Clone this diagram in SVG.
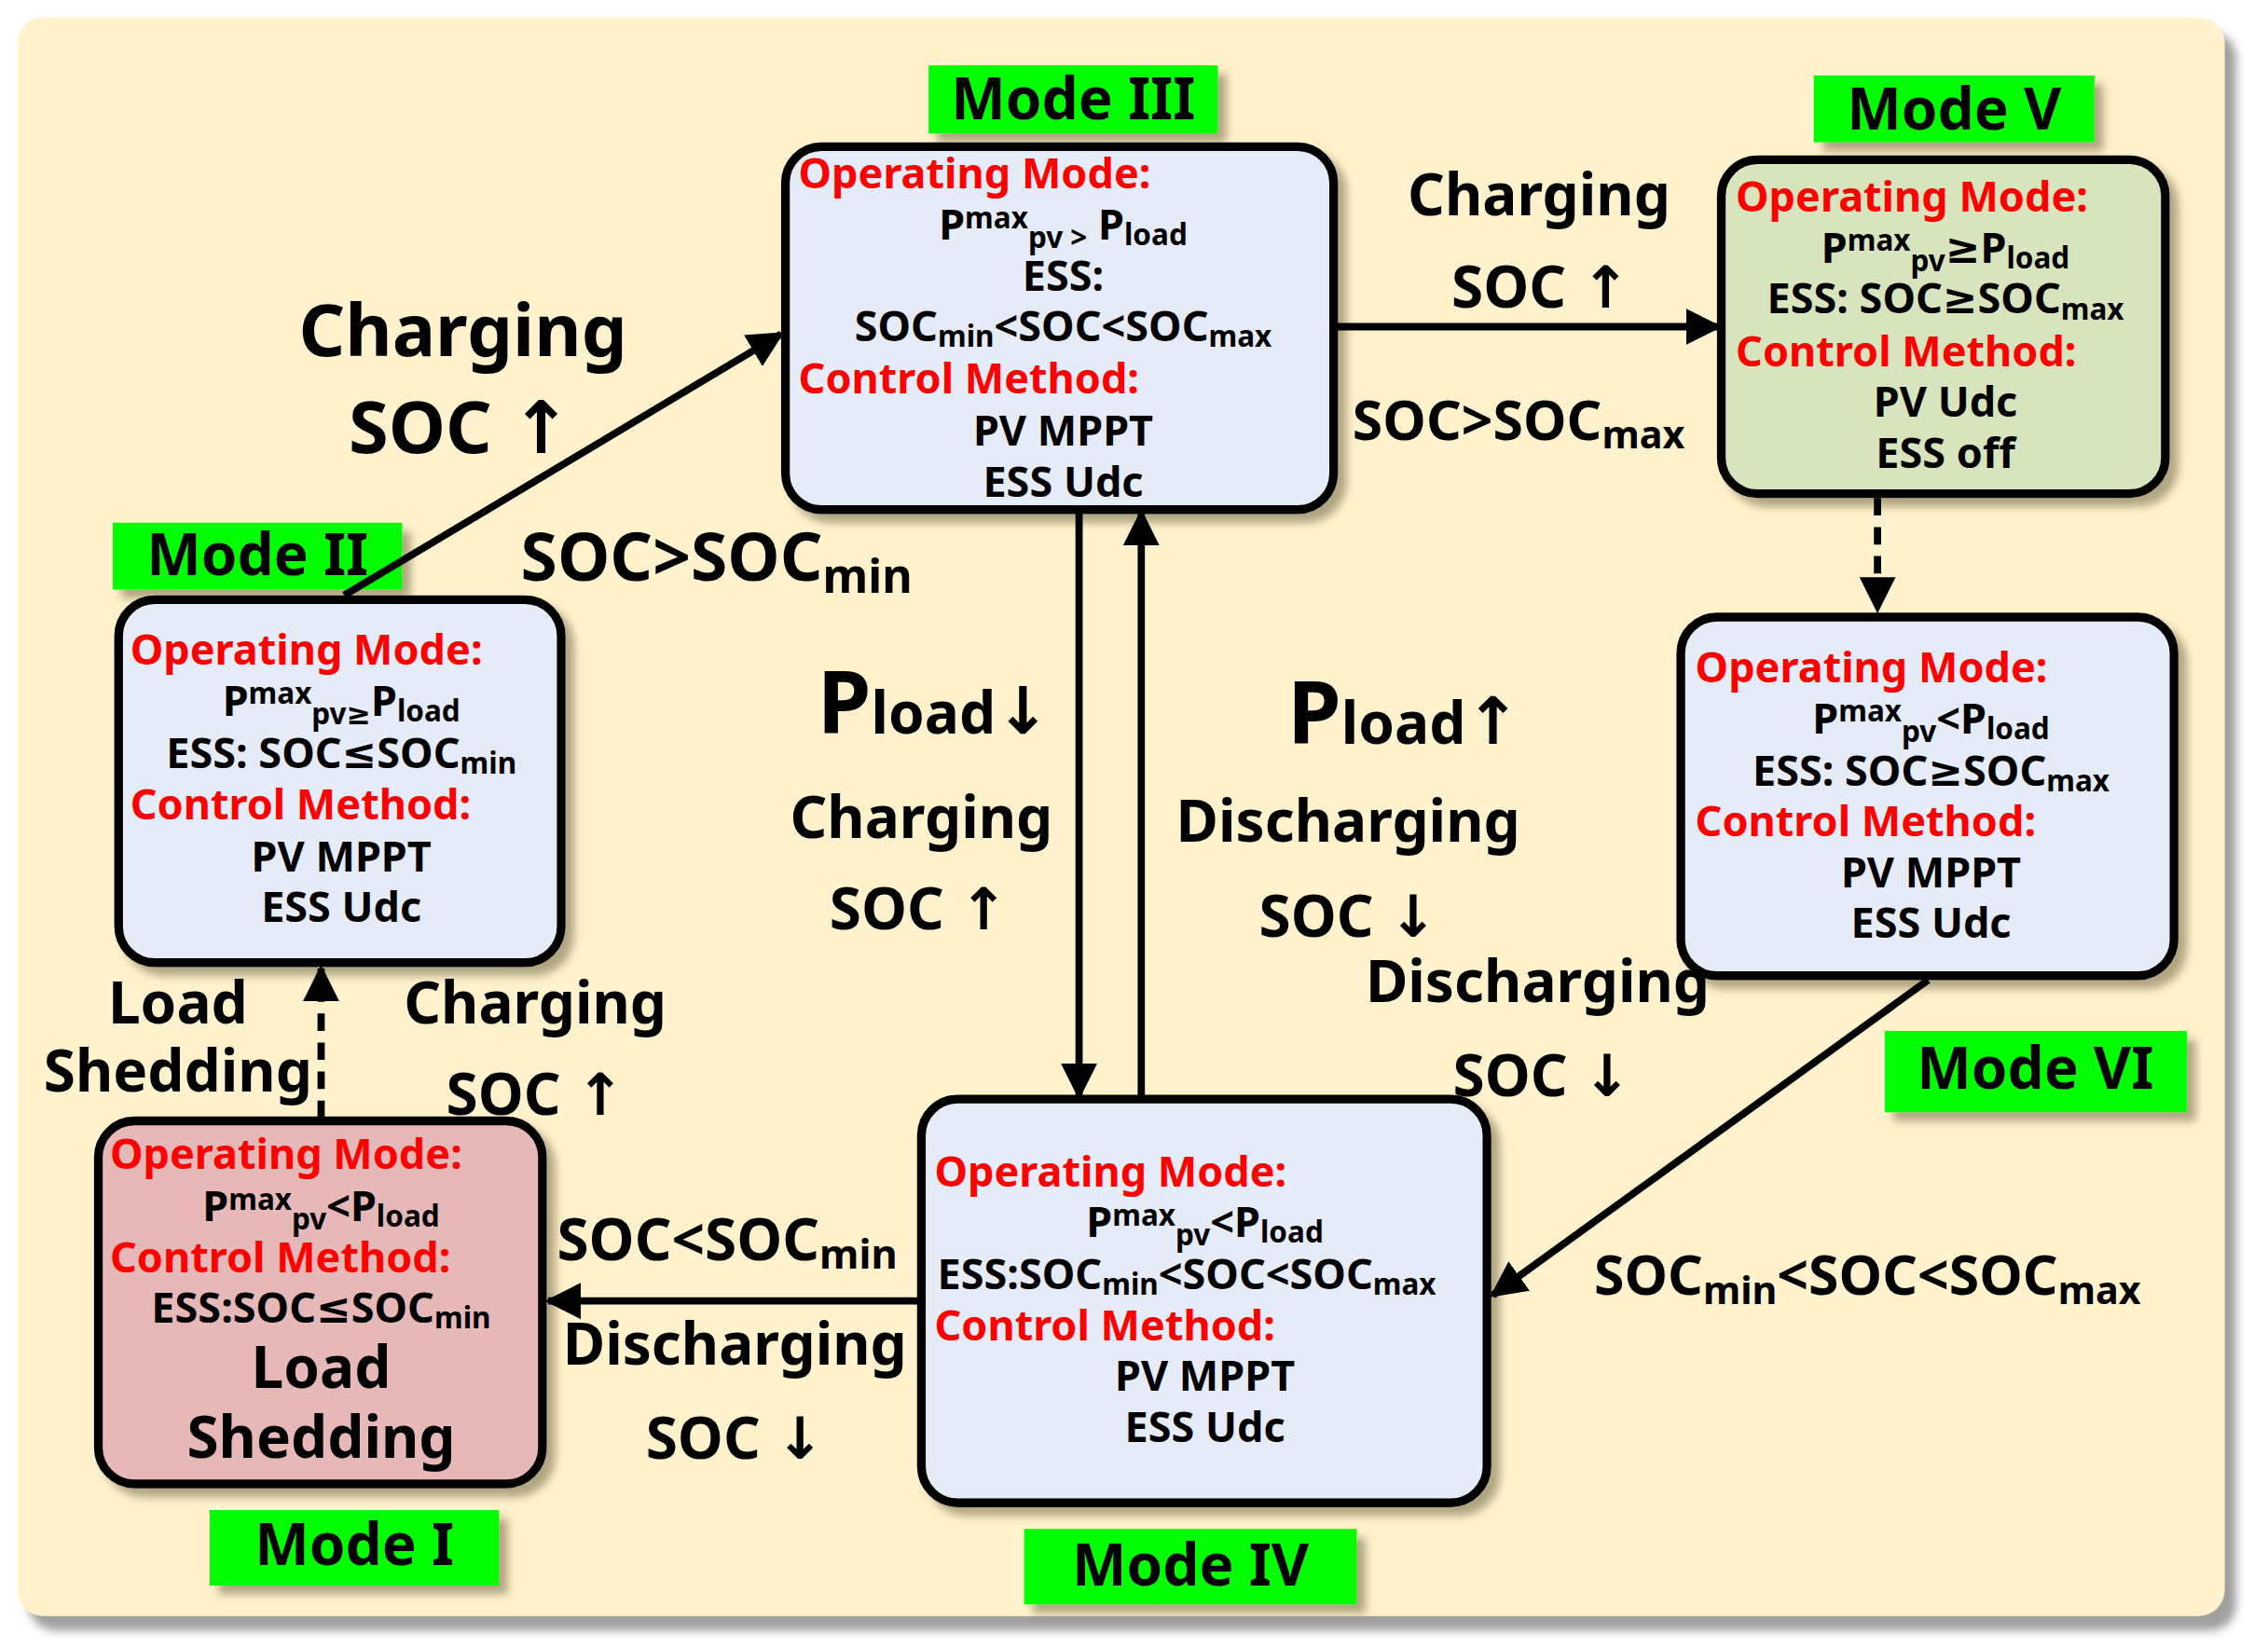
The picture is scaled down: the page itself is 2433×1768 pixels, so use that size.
<svg xmlns="http://www.w3.org/2000/svg" width="2433" height="1768" viewBox="0 0 2433 1768">
<defs>
<filter id="sh" x="-10%" y="-10%" width="130%" height="130%"><feDropShadow dx="6" dy="6" stdDeviation="3" flood-color="#7a7050" flood-opacity="0.6"/></filter>
<filter id="bsh" x="-5%" y="-5%" width="110%" height="110%"><feDropShadow dx="8" dy="10" stdDeviation="3" flood-color="#888" flood-opacity="0.8"/></filter>
<marker id="ah" viewBox="0 0 10 10" refX="9" refY="5" markerWidth="5" markerHeight="5" orient="auto-start-reverse" markerUnits="strokeWidth"><path d="M0,0 L10,5 L0,10 Z" fill="#000"/></marker>
<style>
text{font-family:"Noto Sans","DejaVu Sans",sans-serif;font-weight:bold;fill:#000}
.r{fill:#f00;font-size:29px}
.b{font-size:29px}
.c{text-anchor:middle}
.lab{font-size:40px;text-anchor:middle}
.box{stroke:#000;stroke-width:6;filter:url(#sh)}
.blue{fill:#E6ECF7}
.g{fill:#00FF00;filter:url(#sh)}
.s{font-size:0.7em}
.cn{stroke:#000;stroke-width:5;fill:none;marker-end:url(#ah)}
.d{stroke-dasharray:12 8}
</style>
</defs>
<g transform="scale(1.5517,1.5577)">
<rect x="12" y="12" width="1526" height="1101" rx="18" fill="#FFF2CC" filter="url(#bsh)"/>

<g id="mode3">
<rect class="g" x="642" y="45" width="200" height="47"/>
<text class="lab" x="742" y="82">Mode III</text>
<rect class="box blue" x="543" y="101" width="379" height="250" rx="25"/>
<text class="r" x="552" y="130">Operating Mode:</text>
<text class="b c" x="735" y="165">P<tspan class="s" dy="-8">max</tspan><tspan class="s" dy="14">pv &gt;</tspan><tspan dy="-6"> P</tspan><tspan class="s" dy="4">load</tspan></text>
<text class="b c" x="735" y="200">ESS:</text>
<text class="b c" x="735" y="235">SOC<tspan class="s" dy="4">min</tspan><tspan dy="-4">&lt;SOC&lt;SOC</tspan><tspan class="s" dy="4">max</tspan></text>
<text class="r" x="552" y="271">Control Method:</text>
<text class="b c" x="735" y="307">PV MPPT</text>
<text class="b c" x="735" y="342">ESS Udc</text>
</g>

<g id="mode5">
<rect class="g" x="1254" y="52" width="194" height="46"/>
<text class="lab" x="1351" y="89">Mode V</text>
<rect class="box" fill="#D7E4BD" x="1190" y="110" width="307" height="230" rx="25"/>
<text class="r" x="1200" y="146">Operating Mode:</text>
<text class="b c" x="1345" y="181">P<tspan class="s" dy="-8">max</tspan><tspan class="s" dy="14">pv</tspan><tspan dy="-6">≥P</tspan><tspan class="s" dy="4">load</tspan></text>
<text class="b c" x="1345" y="216">ESS: SOC≥SOC<tspan class="s" dy="4">max</tspan></text>
<text class="r" x="1200" y="252">Control Method:</text>
<text class="b c" x="1345" y="287">PV Udc</text>
<text class="b c" x="1345" y="322">ESS off</text>
</g>

<g id="mode6">
<rect class="box blue" x="1162" y="425" width="341" height="247" rx="25"/>
<text class="r" x="1172" y="470">Operating Mode:</text>
<text class="b c" x="1335" y="505">P<tspan class="s" dy="-8">max</tspan><tspan class="s" dy="14">pv</tspan><tspan dy="-6">&lt;P</tspan><tspan class="s" dy="4">load</tspan></text>
<text class="b c" x="1335" y="541">ESS: SOC≥SOC<tspan class="s" dy="4">max</tspan></text>
<text class="r" x="1172" y="576">Control Method:</text>
<text class="b c" x="1335" y="611">PV MPPT</text>
<text class="b c" x="1335" y="646">ESS Udc</text>
<rect class="g" x="1303" y="710" width="209" height="56"/>
<text class="lab" x="1407" y="750">Mode VI</text>
</g>

<g id="mode4">
<rect class="box blue" x="637" y="757" width="391" height="278" rx="25"/>
<text class="r" x="646" y="817">Operating Mode:</text>
<text class="b c" x="833" y="852">P<tspan class="s" dy="-8">max</tspan><tspan class="s" dy="14">pv</tspan><tspan dy="-6">&lt;P</tspan><tspan class="s" dy="4">load</tspan></text>
<text class="b" x="648" y="888">ESS:SOC<tspan class="s" dy="4">min</tspan><tspan dy="-4">&lt;SOC&lt;SOC</tspan><tspan class="s" dy="4">max</tspan></text>
<text class="r" x="646" y="923">Control Method:</text>
<text class="b c" x="833" y="958">PV MPPT</text>
<text class="b c" x="833" y="993">ESS Udc</text>
<rect class="g" x="708" y="1053" width="230" height="52"/>
<text class="lab" x="823" y="1092">Mode  IV</text>
</g>

<g id="mode2">
<rect class="g" x="78" y="360" width="200" height="46"/>
<text class="lab" x="178" y="396">Mode II</text>
<rect class="box blue" x="82" y="413" width="306" height="250" rx="25"/>
<text class="r" x="90" y="458">Operating Mode:</text>
<text class="b c" x="236" y="493">P<tspan class="s" dy="-8">max</tspan><tspan class="s" dy="14">pv≥</tspan><tspan dy="-6">P</tspan><tspan class="s" dy="4">load</tspan></text>
<text class="b c" x="236" y="529">ESS: SOC≤SOC<tspan class="s" dy="4">min</tspan></text>
<text class="r" x="90" y="564">Control Method:</text>
<text class="b c" x="236" y="600">PV MPPT</text>
<text class="b c" x="236" y="635">ESS Udc</text>
</g>

<g id="mode1">
<rect class="box" fill="#E6B8B7" x="68" y="772" width="307" height="250" rx="25"/>
<text class="r" x="76" y="805">Operating Mode:</text>
<text class="b c" x="222" y="841">P<tspan class="s" dy="-8">max</tspan><tspan class="s" dy="14">pv</tspan><tspan dy="-6">&lt;P</tspan><tspan class="s" dy="4">load</tspan></text>
<text class="r" x="76" y="876">Control Method:</text>
<text class="b c" x="222" y="911">ESS:SOC≤SOC<tspan class="s" dy="4">min</tspan></text>
<text class="c" x="222" y="956" font-size="40">Load</text>
<text class="c" x="222" y="1004" font-size="40">Shedding</text>
<rect class="g" x="145" y="1040" width="200" height="52"/>
<text class="lab" x="245" y="1078">Mode I</text>
</g>

<g id="connectors">
<line class="cn" x1="238" y1="410" x2="540" y2="230"/>
<line class="cn" x1="922" y1="225" x2="1188" y2="225"/>
<line class="cn d" x1="1298" y1="343" x2="1298" y2="420"/>
<line class="cn" x1="1333" y1="675" x2="1032" y2="892"/>
<line class="cn" x1="746" y1="351" x2="746" y2="755"/>
<line class="cn" x1="789" y1="757" x2="789" y2="353"/>
<line class="cn" x1="637" y1="896" x2="379" y2="896"/>
<line class="cn d" x1="222" y1="770" x2="222" y2="667"/>
</g>

<g id="labels">
<text class="c" x="320" y="245" font-size="50">Charging</text>
<text class="c" x="318" y="312" font-size="50">SOC ↑</text>
<text x="360" y="400" font-size="46">SOC&gt;SOC<tspan class="s" dy="8">min</tspan></text>
<text class="c" x="1064" y="148" font-size="40">Charging</text>
<text class="c" x="1065" y="212" font-size="40">SOC ↑</text>
<text x="935" y="303" font-size="38">SOC&gt;SOC<tspan class="s" dy="6">max</tspan></text>
<text x="565" y="505" font-size="60">P<tspan font-size="40">load</tspan><tspan font-size="45">↓</tspan></text>
<text class="c" x="637" y="577" font-size="40">Charging</text>
<text class="c" x="635" y="640" font-size="40">SOC ↑</text>
<text x="890" y="512" font-size="60">P<tspan font-size="40">load</tspan><tspan font-size="45">↑</tspan></text>
<text class="c" x="932" y="580" font-size="40">Discharging</text>
<text class="c" x="932" y="645" font-size="40">SOC ↓</text>
<text class="c" x="1063" y="690" font-size="40">Discharging</text>
<text class="c" x="1066" y="755" font-size="40">SOC ↓</text>
<text x="1102" y="892" font-size="38">SOC<tspan class="s" dy="6">min</tspan><tspan dy="-6">&lt;SOC&lt;SOC</tspan><tspan class="s" dy="6">max</tspan></text>
<text class="c" x="123" y="705" font-size="40">Load</text>
<text class="c" x="123" y="752" font-size="40">Shedding</text>
<text class="c" x="370" y="705" font-size="40">Charging</text>
<text class="c" x="370" y="768" font-size="40">SOC ↑</text>
<text x="385" y="868" font-size="40">SOC&lt;SOC<tspan class="s" dy="6">min</tspan></text>
<text class="c" x="508" y="940" font-size="40">Discharging</text>
<text class="c" x="508" y="1005" font-size="40">SOC ↓</text>
</g>
</g>
</svg>
